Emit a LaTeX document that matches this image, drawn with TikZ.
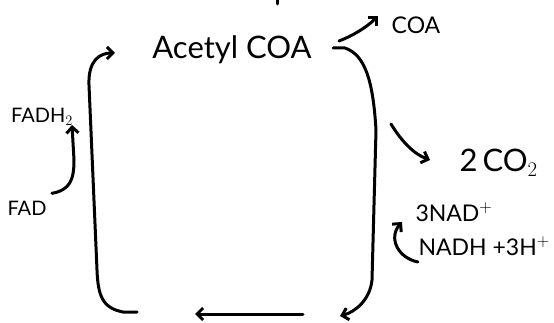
\documentclass[tikz,border=0pt]{standalone}
\usepackage{fontspec}
\setmainfont{Lato}
\usetikzlibrary{arrows.meta,positioning}

\begin{document}
\begin{tikzpicture}[x=1pt,y=-1pt,line width=3pt,line cap=round,line join=round]
\tikzstyle{every node}+=[inner sep=0pt]
\tikzstyle{hand}=[-{Straight Barb[length=6pt,width=12pt]}]
\tikzstyle{big}=[font=\fontsize{31}{31}\selectfont]
\tikzstyle{mid}=[font=\fontsize{23}{23}\selectfont]
\tikzstyle{small}=[font=\fontsize{20}{20}\selectfont]
\useasboundingbox (0,0) rectangle (554,323);
% labels
\node [big] (acetyl) at (232,50) {Acetyl COA};
\node [mid] (coa) at (416,25) {COA};
\node [big,anchor=west] (co2) at (458,163) {2\,CO$_2$};
\node [mid,anchor=west] (nad) at (414,212) {3NAD$^+$};
\node [mid,anchor=west] (nadh) at (417,246) {NADH +3H$^+$};
\node [small] (fadh) at (42,117) {FADH$_2$};
\node [small] (fad) at (27,208) {FAD};
% corners of the cycle
\coordinate (a-out) at (333,48);
\coordinate (a-in) at (115,53);
\coordinate (b-in) at (340,316);
\coordinate (b-r) at (303,314);
\coordinate (b-l) at (195,314);
\coordinate (c-out) at (137,312);
% cycle
\draw [hand] (a-out) -- (345,48) .. controls (365,55) and (373,80) .. (376,130)
  -- (372,280) .. controls (370,300) and (355,312) .. (b-in);
\draw [hand] (b-r) -- (b-l);
\draw [hand] (c-out) -- (123,312) .. controls (102,308) and (98,295) .. (97,270)
  -- (89,85) .. controls (88,60) and (100,53) .. (a-in);
% side products
\draw [hand] (339,41) .. controls (352,36) and (366,28) .. (378,16);
\draw [hand] (391,124) .. controls (402,142) and (414,154) .. (430,160);
\draw [hand] (418,262) .. controls (398,258) and (388,238) .. (402,222);
\draw [hand] (fad.north east) ++(4,-6) .. controls (70,190) and (74,180) .. (74,160) -- (72,125);
\draw (277,0) -- (277,4);
\end{tikzpicture}
\end{document}
